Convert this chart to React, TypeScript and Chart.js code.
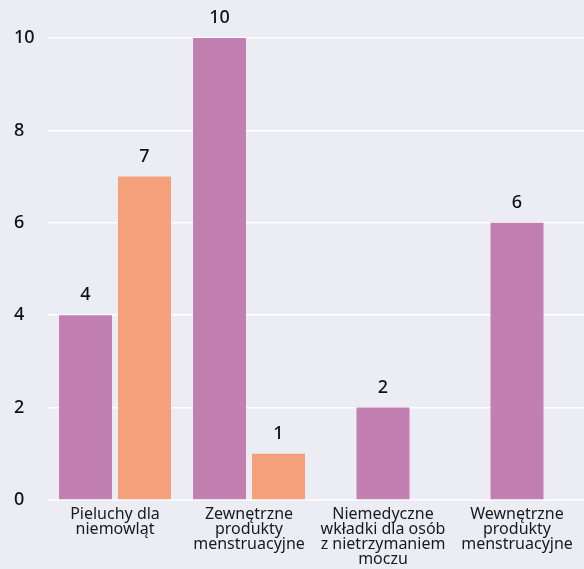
import React, { useEffect, useRef } from "react";
import { Chart, registerables } from "chart.js";

Chart.register(...registerables);

const categories: string[][] = [
  ["Pieluchy dla", "niemowląt"],
  ["Zewnętrzne", "produkty", "menstruacyjne"],
  ["Niemedyczne", "wkładki dla osób", "z nietrzymaniem", "moczu"],
  ["Wewnętrzne", "produkty", "menstruacyjne"],
];
const seriesA: (number | null)[] = [4, 10, 2, 6];
const seriesB: (number | null)[] = [7, 1, null, null];
const yTicks: number[] = [0, 2, 4, 6, 8, 10];

const BG = "#ececf4";
const PURPLE = "#c17fb2";
const ORANGE = "#f4a07a";
const FONT = "'Noto Sans', 'DejaVu Sans', sans-serif";

const valueLabels = {
  id: "valueLabels",
  afterDatasetsDraw(chart: any) {
    const ctx = chart.ctx;
    ctx.save();
    ctx.font = `500 18px ${FONT}`;
    ctx.fillStyle = "#111111";
    ctx.textAlign = "center";
    ctx.textBaseline = "alphabetic";
    chart.data.datasets.forEach((ds: any, i: number) => {
      const meta = chart.getDatasetMeta(i);
      meta.data.forEach((el: any, j: number) => {
        const v = ds.data[j];
        if (v === null || v === undefined) return;
        ctx.fillText(String(v), el.x, el.y - 15);
      });
    });
    ctx.restore();
  },
};

export default function App() {
  const ref = useRef<HTMLCanvasElement | null>(null);
  useEffect(() => {
    document.body.style.background = BG;
    const chart = new Chart(ref.current as HTMLCanvasElement, {
      type: "bar",
      data: {
        labels: categories,
        datasets: [
          {
            data: seriesA,
            backgroundColor: PURPLE,
            skipNull: true,
            categoryPercentage: 0.88,
            barPercentage: 0.898,
            maxBarThickness: 53,
          },
          {
            data: seriesB,
            backgroundColor: ORANGE,
            skipNull: true,
            categoryPercentage: 0.88,
            barPercentage: 0.898,
            maxBarThickness: 53,
          },
        ],
      } as any,
      options: {
        animation: false,
        responsive: true,
        maintainAspectRatio: false,
        layout: { padding: { left: 14, top: 38, right: 0, bottom: 0 } },
        plugins: {
          legend: { display: false },
          tooltip: { enabled: false },
        },
        scales: {
          x: {
            grid: { display: false, drawTicks: false },
            border: { display: false },
            ticks: {
              color: "#1a1a1a",
              font: { family: FONT, size: 16, lineHeight: 0.93 },
              padding: 7,
              maxRotation: 0,
              autoSkip: false,
            },
            afterFit: (scale: any) => {
              scale.height = 69;
            },
          },
          y: {
            min: 0,
            max: 10,
            afterBuildTicks: (scale: any) => {
              scale.ticks = yTicks.map((v) => ({ value: v }));
            },
            grid: { color: "#ffffff", lineWidth: 1.5, drawTicks: false },
            border: { display: false },
            ticks: {
              color: "#111111",
              font: { family: FONT, size: 18, weight: "500" },
              crossAlign: "far",
              padding: 12,
            },
            afterFit: (scale: any) => {
              scale.width = 34;
            },
          },
        },
      } as any,
      plugins: [valueLabels],
    });
    return () => chart.destroy();
  }, []);
  return (
    <div
      style={{
        position: "fixed",
        left: 0,
        top: 0,
        width: 584,
        height: 569,
        background: BG,
      }}
    >
      <canvas ref={ref} />
    </div>
  );
}
